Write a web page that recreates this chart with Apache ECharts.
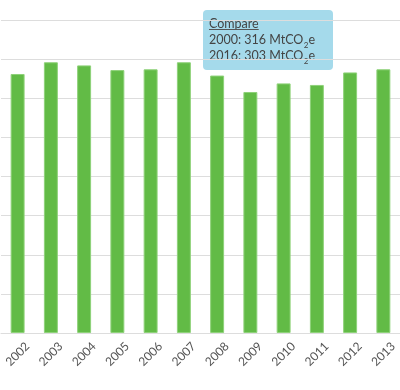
<!DOCTYPE html>
<html><head><meta charset="utf-8">
<script src="https://cdn.jsdelivr.net/npm/echarts@6/dist/echarts.min.js"></script>
<style>html,body{margin:0;padding:0;background:#fff}#c{width:400px;height:390px}</style>
</head><body><div id="c"></div>
<script>
const years = ['2002','2003','2004','2005','2006','2007','2008','2009','2010','2011','2012','2013'];
const emissions = [331, 346, 342, 336, 337, 346, 329, 308, 319, 317, 333, 337];
const yTicks = {min: 0, max: 400, interval: 50};
const compareTitle = 'Compare';
const compareYears = ['2000', '2016'];
const compareValues = ['316', '303'];

const font = 'Lato, "Open Sans", sans-serif';
const tipFs = 12.5, subFs = 8;
const cv = document.createElement('canvas').getContext('2d');
function measure(t, fs) { cv.font = fs + 'px ' + font; return cv.measureText(t).width; }

const tipChildren = [
  {type: 'rect', shape: {x: 0, y: 0, width: 130, height: 60, r: 4}, style: {fill: '#a5daeb'}},
  {type: 'text', x: 6, y: 14.1, style: {text: compareTitle, fontSize: tipFs, fontFamily: font, fill: '#444444', verticalAlign: 'middle', align: 'left'}},
  {type: 'line', shape: {x1: 6, y1: 19.5, x2: 6 + measure(compareTitle, tipFs), y2: 19.5}, style: {stroke: '#555555', lineWidth: 1}}
];
compareYears.forEach((yr, i) => {
  const main = yr + ': ' + compareValues[i] + ' MtCO';
  const yMid = 30.1 + i * 16;
  const w1 = measure(main, tipFs), w2 = measure('2', subFs);
  tipChildren.push(
    {type: 'text', x: 6, y: yMid, style: {text: main, fontSize: tipFs, fontFamily: font, fill: '#444444', verticalAlign: 'middle', align: 'left'}},
    {type: 'text', x: 6 + w1 + 0.3, y: yMid + 4.9, style: {text: '2', fontSize: subFs, fontFamily: font, fill: '#444444', verticalAlign: 'middle', align: 'left'}},
    {type: 'text', x: 6 + w1 + w2 + 0.6, y: yMid, style: {text: 'e', fontSize: tipFs, fontFamily: font, fill: '#444444', verticalAlign: 'middle', align: 'left'}}
  );
});

const chart = echarts.init(document.getElementById('c'), null, {renderer: 'canvas'});
chart.setOption({
  animation: false,
  grid: {left: 1, right: -1.7, top: 20, bottom: 57, containLabel: false},
  xAxis: {
    type: 'category', data: years,
    axisLine: {show: true, lineStyle: {color: '#dddddd', width: 1}},
    axisTick: {show: false},
    axisLabel: {show: false}
  },
  yAxis: {
    type: 'value', min: yTicks.min, max: yTicks.max, interval: yTicks.interval,
    axisLabel: {show: false}, axisLine: {show: false}, axisTick: {show: false},
    splitLine: {lineStyle: {color: '#dddddd', width: 1}}
  },
  series: [{
    type: 'bar', data: emissions, barWidth: '42%', silent: true,
    itemStyle: {color: '#62bb46', borderColor: '#8fd27a', borderWidth: 1},
    label: {
      show: true, position: ['50%', '100%'], rotate: 45,
      align: 'right', verticalAlign: 'top', padding: [9, 1, 0, 0],
      formatter: p => years[p.dataIndex],
      color: '#555555', fontSize: 12, fontFamily: font
    }
  }],
  graphic: [{type: 'group', left: 203, top: 10, children: tipChildren}]
});
</script></body></html>
